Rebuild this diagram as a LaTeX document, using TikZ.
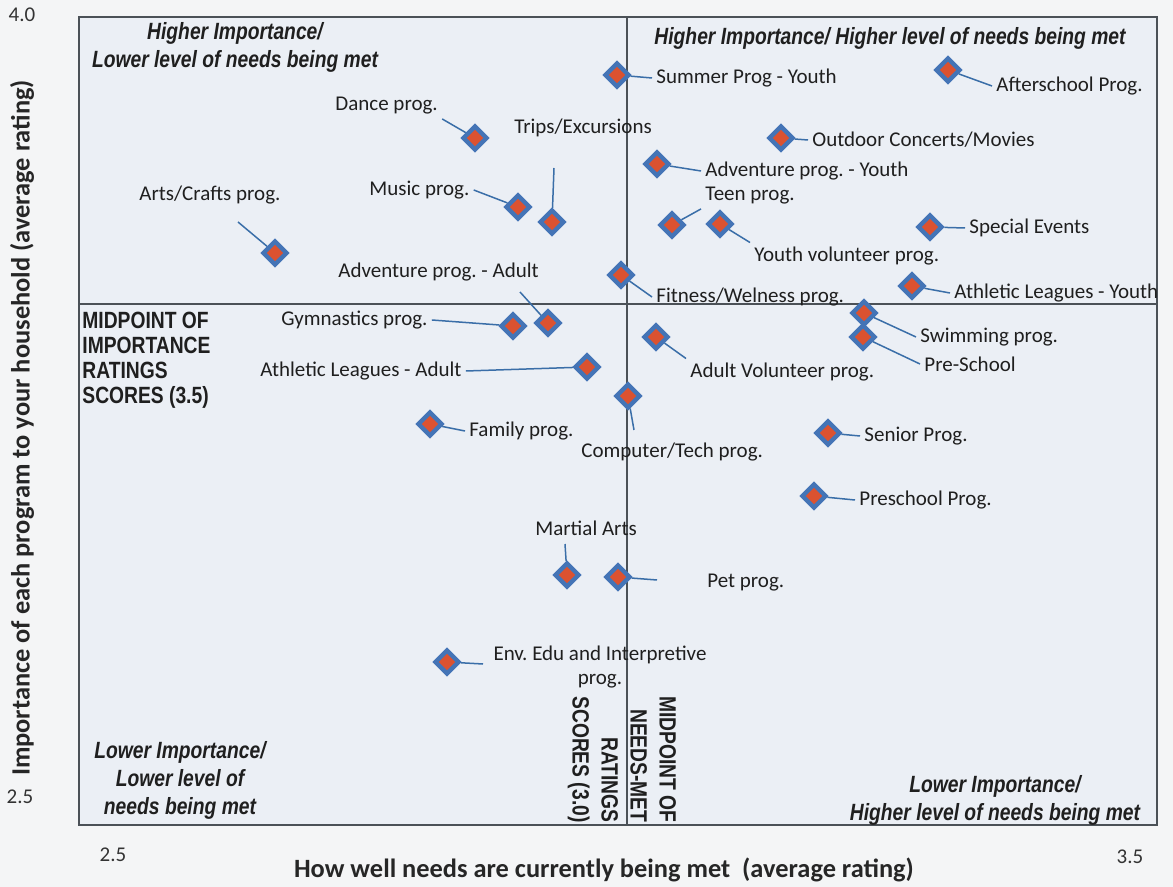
\documentclass[tikz,border=0pt]{standalone}
\usepackage{fontspec}
\setmainfont{Carlito}
\newfontfamily\narrowfont[FakeStretch=0.82]{Liberation Sans}
\usetikzlibrary{shapes.geometric}
\definecolor{paper}{HTML}{F4F5F6}
\definecolor{plotbg}{HTML}{EBEFF5}
\definecolor{markblue}{HTML}{4474B6}
\definecolor{markred}{HTML}{DB5230}
\definecolor{leadblue}{HTML}{3A6EA8}
\definecolor{framegray}{HTML}{4B5157}
\frenchspacing

\begin{document}
\begin{tikzpicture}[x=0.5pt,y=-0.5pt,
    prog/.style={diamond, draw=markblue, line width=2.2pt, fill=markred,
        inner sep=0pt, minimum size=12.5pt},
    lbl/.style={anchor=west, font=\fontsize{10.5}{12}\selectfont,
        text=black!88, inner sep=2pt},
    lead/.style={draw=leadblue, line width=0.75pt},
    quad/.style={font=\narrowfont\bfseries\itshape\fontsize{11.75}{14}\selectfont,
        align=center, text=black!88},
    midlbl/.style={font=\narrowfont\bfseries\fontsize{11.75}{12.5}\selectfont,
        text=black!88},
    tick/.style={font=\fontsize{10.5}{12}\selectfont, text=black!80},
    axistitle/.style={font=\bfseries\fontsize{13.2}{15}\selectfont, text=black!85}
]
\useasboundingbox[fill=paper] (0,0) rectangle (1173,887);
\fill[plotbg] (79,17) rectangle (1157,825);
\draw[framegray, line width=0.6pt] (79,304) -- (1157,304);
\draw[framegray, line width=0.6pt] (627,17) -- (627,825);
\draw[framegray, line width=0.8pt] (79,17) rectangle (1157,825);

\node[tick] (t40) at (22,15) {4.0};
\node[tick] (t25y) at (20,797) {2.5};
\node[tick] (t25x) at (113,855) {2.5};
\node[tick] (t35x) at (1130,857) {3.5};
\node[axistitle, rotate=90] (ytitle) at (22,428)
    {Importance of each program to your household (average rating)};
\node[axistitle] (xtitle) at (604,870)
    {How well needs are currently being met\ \ (average rating)};

\node[quad] (qtl) at (235,47) {Higher Importance/\\Lower level of needs being met};
\node[quad] (qtr) at (890,38) {Higher Importance/ Higher level of needs being met};
\node[quad] (qbl) at (180,780) {Lower Importance/\\Lower level of\\needs being met};
\node[quad] (qbr) at (995,800) {Lower Importance/\\Higher level of needs being met};
\node[midlbl, align=left, anchor=north west, inner sep=0pt] (midimp) at (82,312)
    {MIDPOINT OF\\IMPORTANCE\\RATINGS\\SCORES (3.5)};
\node[midlbl, align=right, rotate=-90, anchor=east, inner sep=0pt,
    font=\narrowfont\bfseries\fontsize{11.75}{14.5}\selectfont] (midneed) at (622,823)
    {MIDPOINT OF\\NEEDS-MET\\RATINGS\\SCORES (3.0)};

\node[prog] (msummer) at (617,75) {};
\node[prog] (mafter) at (948,70) {};
\node[prog] (mdance) at (475,138) {};
\node[prog] (mtrips) at (552,222) {};
\node[prog] (moutdoor) at (781,138) {};
\node[prog] (madvyouth) at (657,164) {};
\node[prog] (mteen) at (672,225) {};
\node[prog] (myouthvol) at (720,224) {};
\node[prog] (mspecial) at (930,227) {};
\node[prog] (marts) at (275,253) {};
\node[prog] (mmusic) at (518,207) {};
\node[prog] (madvadult) at (548,323) {};
\node[prog] (mfitness) at (621,275) {};
\node[prog] (mathyouth) at (912,286) {};
\node[prog] (mgym) at (513,326) {};
\node[prog] (mswim) at (864,313) {};
\node[prog] (mpresch) at (863,337) {};
\node[prog] (madultvol) at (656,337) {};
\node[prog] (mathadult) at (587,367) {};
\node[prog] (mcomputer) at (628,396) {};
\node[prog] (mfamily) at (430,424) {};
\node[prog] (msenior) at (828,433) {};
\node[prog] (mpreschool) at (814,496) {};
\node[prog] (mmartial) at (567,575) {};
\node[prog] (mpet) at (618,577) {};
\node[prog] (menv) at (447,662) {};

\node[lbl] (lsummer) at (652,78) {Summer Prog - Youth};
\node[lbl] (lafter) at (992,86) {Afterschool Prog.};
\node[lbl] (ldance) at (331,106) {Dance prog.};
\node[lbl] (ltrips) at (510,128) {Trips/Excursions};
\node[lbl] (loutdoor) at (808,140) {Outdoor Concerts/Movies};
\node[lbl] (ladvyouth) at (701,171) {Adventure prog. - Youth};
\node[lbl] (lteen) at (701,196) {Teen prog.};
\node[lbl] (lyouthvol) at (750,256) {Youth volunteer prog.};
\node[lbl] (lspecial) at (965,228) {Special Events};
\node[lbl] (larts) at (135,195) {Arts/Crafts prog.};
\node[lbl] (lmusic) at (365,190) {Music prog.};
\node[lbl] (ladvadult) at (334,272) {Adventure prog. - Adult};
\node[lbl] (lfitness) at (652,297) {Fitness/Welness prog.};
\node[lbl] (lathyouth) at (950,293) {Athletic Leagues - Youth};
\node[lbl] (lgym) at (277,320) {Gymnastics prog.};
\node[lbl] (lswim) at (916,337) {Swimming prog.};
\node[lbl] (lpresch) at (920,364) {Pre-School};
\node[lbl] (ladultvol) at (686,372) {Adult Volunteer prog.};
\node[lbl] (lathadult) at (256,371) {Athletic Leagues - Adult};
\node[lbl] (lcomputer) at (577,452) {Computer/Tech prog.};
\node[lbl] (lfamily) at (465,431) {Family prog.};
\node[lbl] (lsenior) at (860,436) {Senior Prog.};
\node[lbl] (lpreschool) at (855,500) {Preschool Prog.};
\node[lbl] (lmartial) at (531,528) {Martial Arts};
\node[lbl] (lpet) at (703,583) {Pet prog.};
\node[lbl, align=center, anchor=center] (lenv) at (600,667)
    {Env. Edu and Interpretive\\prog.};

\coordinate (ctrips) at (554,168);
\coordinate (carts) at (238,222);
\coordinate (cadvadult) at (520,292);
\coordinate (ccomputer) at (634,430);
\coordinate (cmartial) at (565,544);
\coordinate (cpet) at (657,580);
\coordinate (cenv) at (483,664);

\draw[lead] (lsummer.west) -- (msummer);
\draw[lead] (lafter.west) -- (mafter);
\draw[lead] (ldance.south east) -- (mdance);
\draw[lead] (ctrips) -- (mtrips);
\draw[lead] (loutdoor.west) -- (moutdoor);
\draw[lead] (ladvyouth.west) -- (madvyouth);
\draw[lead] (lteen.south west) -- (mteen);
\draw[lead] (lyouthvol.north west) -- (myouthvol);
\draw[lead] (lspecial.west) -- (mspecial);
\draw[lead] (carts) -- (marts);
\draw[lead] (lmusic.east) -- (mmusic);
\draw[lead] (cadvadult) -- (madvadult);
\draw[lead] (lfitness.west) -- (mfitness);
\draw[lead] (lathyouth.west) -- (mathyouth);
\draw[lead] (lgym.east) -- (mgym);
\draw[lead] (lswim.west) -- (mswim);
\draw[lead] (lpresch.west) -- (mpresch);
\draw[lead] (ladultvol.north west) -- (madultvol);
\draw[lead] (lathadult.east) -- (mathadult);
\draw[lead] (ccomputer) -- (mcomputer);
\draw[lead] (lfamily.west) -- (mfamily);
\draw[lead] (lsenior.west) -- (msenior);
\draw[lead] (lpreschool.west) -- (mpreschool);
\draw[lead] (cmartial) -- (mmartial);
\draw[lead] (cpet) -- (mpet);
\draw[lead] (cenv) -- (menv);
\end{tikzpicture}
\end{document}
